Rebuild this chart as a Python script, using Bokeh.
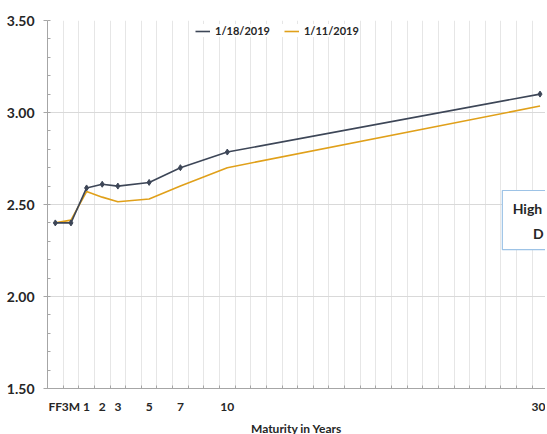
from bokeh.plotting import figure
from bokeh.models import FixedTicker, Range1d, Legend, LegendItem, NumeralTickFormatter
from bokeh.core.properties import value
from bokeh.embed import file_html
from bokeh.resources import INLINE

# ---- data ----
maturities = [-1, 0, 1, 2, 3, 5, 7, 10, 30]
tick_labels = ["FF", "3M", "1", "2", "3", "5", "7", "10", "30"]
yields_0118 = [2.40, 2.40, 2.59, 2.61, 2.60, 2.62, 2.70, 2.785, 3.10]
yields_0111 = [2.40, 2.415, 2.57, 2.54, 2.515, 2.53, 2.60, 2.70, 3.035]
series_names = ["1/18/2019", "1/11/2019"]
y_ticks = [1.5, 2.0, 2.5, 3.0, 3.5]

FONT = "Lato"
DARK = "#3D4657"
GOLD = "#E0A01A"
TXT = "#262626"
FRAME_H = 368

p = figure(frame_width=498, frame_height=FRAME_H, output_backend="svg", toolbar_location=None,
           x_range=Range1d(-1.5, 30.35), y_range=Range1d(1.5, 3.5),
           min_border_left=47, min_border_right=0, min_border_top=20, min_border_bottom=0)
p.outline_line_color = None
p.background_fill_color = "white"

# grids
p.xgrid.ticker = FixedTicker(ticks=[k + 0.5 for k in range(-2, 31)])
p.xgrid.grid_line_color = "#e6e6e6"
p.xgrid.grid_line_width = 1
p.ygrid.ticker = FixedTicker(ticks=y_ticks)
p.ygrid.grid_line_color = "#d9d9d9"

# x axis
p.xaxis.ticker = FixedTicker(ticks=maturities, minor_ticks=[k + 0.5 for k in range(-2, 31)])
p.xaxis.major_label_overrides = {m: l for m, l in zip(maturities, tick_labels)}
p.xaxis.major_tick_in = 0
p.xaxis.major_tick_out = 0
p.xaxis.minor_tick_in = 3
p.xaxis.minor_tick_out = 0
p.xaxis.minor_tick_line_color = "#a6a6a6"
p.xaxis.axis_line_color = "#a6a6a6"
p.xaxis.major_label_text_font = FONT
p.xaxis.major_label_text_font_style = "bold"
p.xaxis.major_label_text_font_size = "12px"
p.xaxis.major_label_text_color = TXT
p.xaxis.major_label_standoff = 10
p.xaxis.axis_label = "Maturity in Years"
p.xaxis.axis_label_text_font = FONT
p.xaxis.axis_label_text_font_style = "bold"
p.xaxis.axis_label_text_font_size = "12px"
p.xaxis.axis_label_text_color = TXT
p.xaxis.axis_label_standoff = 4

# y axis
p.yaxis.ticker = FixedTicker(ticks=y_ticks, minor_ticks=[1.5 + 0.1 * k for k in range(21)])
p.yaxis.formatter = NumeralTickFormatter(format="0.00")
p.yaxis.major_tick_in = 0
p.yaxis.major_tick_out = 4
p.yaxis.minor_tick_in = 3
p.yaxis.minor_tick_out = 0
p.yaxis.major_tick_line_color = "#a6a6a6"
p.yaxis.minor_tick_line_color = "#a6a6a6"
p.yaxis.axis_line_color = "#a6a6a6"
p.yaxis.major_label_text_font = FONT
p.yaxis.major_label_text_font_style = "bold"
p.yaxis.major_label_text_font_size = "14px"
p.yaxis.major_label_text_color = TXT
p.yaxis.major_label_standoff = 9

# side annotation box (at the right edge, as in the source)
p.quad(left=[27.59], right=[31.0], top=[2.576], bottom=[2.255],
       fill_color="white", line_color="#9DC3E6", line_width=1.2)
p.text(x=[28.25, 29.55], y=[2.478, 2.342], text=["High", "D"], text_font=value(FONT),
       text_font_style="bold", text_font_size="14px", text_color=TXT,
       text_baseline="middle", text_align="left")

# series
r2 = p.line(maturities, yields_0111, line_color=GOLD, line_width=1.6)
r1 = p.line(maturities, yields_0118, line_color=DARK, line_width=1.6)
p.scatter(maturities, yields_0118, marker="diamond", size=6, color=DARK)

legend = Legend(items=[LegendItem(label=series_names[0], renderers=[r1]),
                       LegendItem(label=series_names[1], renderers=[r2])],
                orientation="horizontal", location=(148, FRAME_H - 17),
                label_text_font=FONT, label_text_font_style="bold",
                label_text_font_size="11px", label_text_color=TXT,
                glyph_height=8, glyph_width=15, label_height=10,
                padding=2, margin=0, spacing=14, border_line_color=None,
                background_fill_color="white", background_fill_alpha=1)
p.add_layout(legend)

open("out.html", "w").write(file_html(p, INLINE))
